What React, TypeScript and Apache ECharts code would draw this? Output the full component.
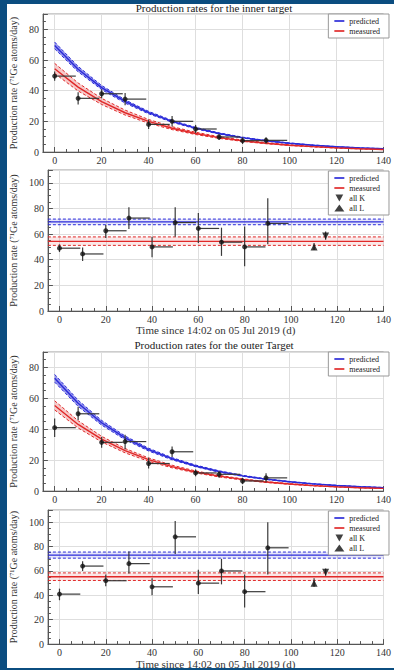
import React, { useEffect, useRef } from 'react';
import * as echarts from 'echarts';

// ---------- data ----------
const curveDays = [0, 10, 20, 30, 40, 50, 60, 70, 80, 90, 100, 110, 120, 130, 140];

const innerPredCenter = [69.5, 54, 42, 33, 25.7, 20, 15.6, 12.1, 9.4, 7.3, 5.7, 4.4, 3.4, 2.7, 2.1];
const innerPredUpper = [71.7, 55.8, 43.4, 34, 26.5, 20.6, 16.1, 12.5, 9.7, 7.5, 5.9, 4.6, 3.5, 2.8, 2.2];
const innerPredLower = [67.3, 52.3, 40.7, 31.9, 24.9, 19.4, 15.1, 11.7, 9.1, 7.1, 5.5, 4.3, 3.3, 2.6, 2.0];

const innerMeasCenter = [54.3, 42.3, 32.9, 25.6, 20, 15.5, 12.1, 9.4, 7.3, 5.7, 4.4, 3.5, 2.7, 2.1, 1.6];
const innerMeasUpper = [57.8, 45, 35, 27.3, 21.2, 16.5, 12.9, 10, 7.8, 6.1, 4.7, 3.7, 2.9, 2.2, 1.7];
const innerMeasLower = [51.2, 39.8, 31, 24.1, 18.8, 14.6, 11.4, 8.9, 6.9, 5.4, 4.2, 3.3, 2.5, 2.0, 1.5];

const outerPredCenter = [73, 56.8, 44.2, 34.4, 26.8, 20.9, 16.2, 12.6, 9.8, 7.7, 6, 4.6, 3.6, 2.8, 2.2];
const outerPredUpper = [75.5, 58.8, 45.7, 35.6, 27.7, 21.6, 16.8, 13.1, 10.2, 7.9, 6.2, 4.8, 3.7, 2.9, 2.3];
const outerPredLower = [70.5, 54.8, 42.7, 33.2, 25.9, 20.2, 15.7, 12.2, 9.5, 7.4, 5.8, 4.5, 3.5, 2.7, 2.1];

const outerMeasCenter = [55.4, 43.1, 33.6, 26.1, 20.3, 15.8, 12.3, 9.6, 7.5, 5.8, 4.5, 3.5, 2.7, 2.1, 1.7];
const outerMeasUpper = [58.4, 45.5, 35.4, 27.5, 21.4, 16.7, 13, 10.1, 7.9, 6.1, 4.8, 3.7, 2.9, 2.2, 1.8];
const outerMeasLower = [52.5, 40.8, 31.8, 24.7, 19.2, 15, 11.7, 9.1, 7.1, 5.5, 4.3, 3.3, 2.6, 2.0, 1.6];

// binned measurements (start day, end day)
const binStart = [0, 10, 20, 30, 40, 50, 60, 70, 80, 90];
const binEnd = [9, 19, 29, 39, 49, 59, 69, 79, 89, 99];

const innerDecay = [49.5, 35, 38, 34.5, 18, 20, 15, 9.8, 7.4, 7.6];
const innerDecayLow = [46.5, 31, 35, 30.5, 15, 16.6, 12.3, 7.8, 5.2, 5.6];
const innerDecayHigh = [52.5, 39, 41, 38.5, 21, 23.4, 17.7, 11.8, 9.6, 9.6];

const outerDecay = [41, 50, 31.5, 32, 17.8, 25.4, 11.7, 10.8, 6.5, 8.5];
const outerDecayLow = [35, 46, 28, 27, 14.5, 22, 9.5, 8.5, 4.5, 5.5];
const outerDecayHigh = [47, 54.5, 35, 36.5, 21.5, 28.8, 14, 13, 8.5, 11.5];

const innerRate = [49, 44.5, 62.6, 72.5, 50, 69, 64.4, 53.7, 50, 68.3];
const innerRateLow = [46, 39, 57, 64, 42, 58, 53, 43, 35, 52];
const innerRateHigh = [52, 49.5, 67, 81, 58, 81, 76.5, 65, 66, 88];

const outerRate = [41, 64, 52, 66, 47, 88, 50, 60, 43, 79];
const outerRateLow = [36, 60, 47.5, 58, 40, 74, 41, 49, 30, 57];
const outerRateHigh = [45.5, 68, 57, 76, 54, 101, 61, 70, 57, 100];

// shell-resolved points: all L, all K
const shellDays = [110, 115];
const innerShellRate = [50, 58.6];
const innerShellLow = [47.5, 55.5];
const innerShellHigh = [53, 62];
const outerShellRate = [50, 59];
const outerShellLow = [47, 56];
const outerShellHigh = [54, 62];

// constant levels: [lower, central, upper]
const innerPredLevel = [67.3, 69.5, 71.7];
const innerMeasLevel = [51.2, 54.3, 57.8];
const outerPredLevel = [70.5, 73, 75.5];
const outerMeasLevel = [52.2, 55.2, 58.4];

const levelSpan = [-5, 140];

const titles = ['Production rates for the inner target', 'Production rates for the outer Target'];
const yTitle = 'Production rate (\u2077\u00B9Ge atoms/day)';
const xTitle = 'Time since 14:02 on 05 Jul 2019 (d)';

// ---------- styling ----------
const FONT = "'Liberation Serif', 'DejaVu Serif', serif";
const BLUE_BG = '#0b4d80';
const BLUE = '#2a2ad8';
const BLUE_FILL = 'rgba(50,50,220,0.5)';
const BLUE_FILL_LIGHT = 'rgba(60,60,220,0.13)';
const RED = '#e02828';
const RED_FILL = 'rgba(225,60,60,0.28)';
const RED_FILL_LIGHT = 'rgba(225,60,60,0.12)';
const AXIS = '#555';
const LINE_ICON = 'path://M0,0L12,0L12,2L0,2Z';
const DOWN_TRI = 'path://M0,0L10,0L5,9Z';

function band(name: string, gi: number, xs: number[], lo: number[], center: number[], hi: number[], color: string, fill: string) {
  const common = { xAxisIndex: gi, yAxisIndex: gi, smooth: false, symbol: 'none', showSymbol: false, silent: true };
  return [
    {
      type: 'custom',
      xAxisIndex: gi,
      yAxisIndex: gi,
      silent: true,
      z: 2,
      data: xs.map((x, i) => [x, lo[i], hi[i]]),
      encode: { x: 0, y: [1, 2] },
      renderItem: (params: any, api: any) => {
        if (params.dataIndex !== 0) return null;
        const top = xs.map((x, i) => api.coord([x, hi[i]]));
        const bottom = xs.map((x, i) => api.coord([x, lo[i]])).reverse();
        return { type: 'polygon', shape: { points: top.concat(bottom) }, style: { fill } };
      },
    },
    { ...common, type: 'line', name: name + ' low', data: xs.map((x, i) => [x, lo[i]]), itemStyle: { color }, lineStyle: { color, width: 1, type: [3, 2] }, z: 3 },
    { ...common, type: 'line', name: name + ' high', data: xs.map((x, i) => [x, hi[i]]), itemStyle: { color }, lineStyle: { color, width: 1, type: [3, 2] }, z: 3 },
    { ...common, type: 'line', name, data: xs.map((x, i) => [x, center[i]]), itemStyle: { color }, lineStyle: { color, width: 1.4 }, z: 4 },
  ];
}

function levelBand(name: string, gi: number, level: number[], color: string, fill: string) {
  return band(name, gi, levelSpan, levelSpan.map(() => level[0]), levelSpan.map(() => level[1]), levelSpan.map(() => level[2]), color, fill);
}

function errorBars(gi: number, xs: number[], ys: number[], lo: number[], hi: number[], ends: number[]) {
  return {
    type: 'custom',
    xAxisIndex: gi,
    yAxisIndex: gi,
    silent: true,
    z: 5,
    data: xs.map((x, i) => [x, ys[i], lo[i], hi[i], ends[i]]),
    encode: { x: [0, 4], y: [1, 2, 3] },
    renderItem: (_p: any, api: any) => {
      const x = api.value(0);
      const y = api.value(1);
      const p = api.coord([x, y]);
      const pl = api.coord([x, api.value(2)]);
      const ph = api.coord([x, api.value(3)]);
      const pe = api.coord([api.value(4), y]);
      const st = { stroke: '#3a3a3a', lineWidth: 1.2 };
      return {
        type: 'group',
        children: [
          { type: 'line', shape: { x1: pl[0], y1: pl[1], x2: ph[0], y2: ph[1] }, style: st },
          { type: 'line', shape: { x1: p[0], y1: p[1], x2: pe[0], y2: p[1] }, style: st },
        ],
      };
    },
  };
}

function markers(gi: number, name: string, xs: number[], ys: number[], symbol: string, size: number) {
  return {
    type: 'scatter',
    name,
    xAxisIndex: gi,
    yAxisIndex: gi,
    silent: true,
    symbol,
    symbolSize: size,
    itemStyle: { color: '#111' },
    data: xs.map((x, i) => [x, ys[i]]),
    z: 6,
  };
}

function buildOption(): any {
  const grids = [
    { left: 40, top: 14, width: 348, height: 138 },
    { left: 40, top: 170, width: 348, height: 141 },
    { left: 40, top: 352, width: 348, height: 139 },
    { left: 40, top: 510, width: 348, height: 138 },
  ].map((g) => ({ ...g, show: true, borderColor: '#9a9a9a', borderWidth: 1, backgroundColor: 'transparent' }));

  const yMax = [90, 110, 90, 110];

  const xAxis = grids.map((_g, i) => ({
    type: 'value',
    gridIndex: i,
    min: -5,
    max: 140,
    splitNumber: 7,
    minInterval: 20,
    maxInterval: 20,
    axisLine: { show: true, onZero: false, lineStyle: { color: AXIS, width: 1 } },
    axisTick: { show: true, inside: true, length: 5, lineStyle: { color: AXIS } },
    minorTick: { show: true, splitNumber: 4, length: 3, lineStyle: { color: AXIS } },
    splitLine: { show: true, lineStyle: { color: '#dedede', width: 1 } },
    axisLabel: { showMinLabel: false, fontFamily: FONT, fontSize: 10, color: '#333', margin: 3 },
    name: i % 2 === 1 ? xTitle : '',
    nameLocation: 'middle',
    nameGap: 12,
    nameTextStyle: { fontFamily: FONT, fontSize: 11, color: '#333', verticalAlign: 'top' },
  }));

  const yAxis = grids.map((_g, i) => ({
    type: 'value',
    gridIndex: i,
    min: 0,
    max: yMax[i],
    interval: 20,
    axisLine: { show: true, onZero: false, lineStyle: { color: AXIS, width: 1 } },
    axisTick: { show: true, inside: true, length: 5, lineStyle: { color: AXIS } },
    minorTick: { show: true, splitNumber: 4, length: 3, lineStyle: { color: AXIS } },
    splitLine: { show: true, lineStyle: { color: '#dedede', width: 1 } },
    axisLabel: { showMaxLabel: false, fontFamily: FONT, fontSize: 10, color: '#333', margin: 4 },
    name: yTitle,
    nameLocation: 'middle',
    nameRotate: 90,
    nameGap: 19,
    nameTextStyle: { fontFamily: FONT, fontSize: 10, color: '#333' },
  }));

  const legendCommon = {
    orient: 'vertical',
    right: 5,
    selectedMode: false,
    backgroundColor: '#fff',
    borderColor: '#999',
    borderWidth: 1,
    borderRadius: 0,
    padding: [3, 9, 3, 6],
    itemWidth: 10,
    itemHeight: 7,
    itemGap: 2,
    symbolKeepAspect: true,
    z: 10,
    textStyle: { fontFamily: FONT, fontSize: 8, color: '#222', lineHeight: 8 },
  };
  const lineItems = [
    { name: 'predicted', icon: LINE_ICON, itemStyle: { color: BLUE } },
    { name: 'measured', icon: LINE_ICON, itemStyle: { color: RED } },
  ];
  const shellItems = [
    { name: 'all K', icon: DOWN_TRI, itemStyle: { color: '#111' } },
    { name: 'all L', icon: 'triangle', itemStyle: { color: '#111' } },
  ];
  const legend = [
    { ...legendCommon, top: 14, data: lineItems },
    { ...legendCommon, top: 171, data: [...lineItems, ...shellItems] },
    { ...legendCommon, top: 352, data: lineItems },
    { ...legendCommon, top: 511, data: [...lineItems, ...shellItems] },
  ];

  const titleStyle = { fontFamily: FONT, fontSize: 11, fontWeight: 'normal', color: '#222' };
  const title = [
    { text: titles[0], left: 214, top: 2, textAlign: 'center', padding: 0, textStyle: titleStyle },
    { text: titles[1], left: 214, top: 339, textAlign: 'center', padding: 0, textStyle: titleStyle },
  ];

  const series: any[] = [
    // panel 1: inner decay
    ...band('predicted', 0, curveDays, innerPredLower, innerPredCenter, innerPredUpper, BLUE, BLUE_FILL),
    ...band('measured', 0, curveDays, innerMeasLower, innerMeasCenter, innerMeasUpper, RED, RED_FILL),
    errorBars(0, binStart, innerDecay, innerDecayLow, innerDecayHigh, binEnd),
    markers(0, 'inner decay data', binStart, innerDecay, 'circle', 5),
    // panel 2: inner rates
    ...levelBand('predicted', 1, innerPredLevel, BLUE, BLUE_FILL_LIGHT),
    ...levelBand('measured', 1, innerMeasLevel, RED, RED_FILL_LIGHT),
    errorBars(1, binStart, innerRate, innerRateLow, innerRateHigh, binEnd),
    markers(1, 'inner rate data', binStart, innerRate, 'circle', 5),
    errorBars(1, shellDays, innerShellRate, innerShellLow, innerShellHigh, shellDays),
    markers(1, 'all L', [shellDays[0]], [innerShellRate[0]], 'triangle', 7),
    markers(1, 'all K', [shellDays[1]], [innerShellRate[1]], DOWN_TRI, 7),
    // panel 3: outer decay
    ...band('predicted', 2, curveDays, outerPredLower, outerPredCenter, outerPredUpper, BLUE, BLUE_FILL),
    ...band('measured', 2, curveDays, outerMeasLower, outerMeasCenter, outerMeasUpper, RED, RED_FILL),
    errorBars(2, binStart, outerDecay, outerDecayLow, outerDecayHigh, binEnd),
    markers(2, 'outer decay data', binStart, outerDecay, 'circle', 5),
    // panel 4: outer rates
    ...levelBand('predicted', 3, outerPredLevel, BLUE, BLUE_FILL_LIGHT),
    ...levelBand('measured', 3, outerMeasLevel, RED, RED_FILL_LIGHT),
    errorBars(3, binStart, outerRate, outerRateLow, outerRateHigh, binEnd),
    markers(3, 'outer rate data', binStart, outerRate, 'circle', 5),
    errorBars(3, shellDays, outerShellRate, outerShellLow, outerShellHigh, shellDays),
    markers(3, 'all L', [shellDays[0]], [outerShellRate[0]], 'triangle', 7),
    markers(3, 'all K', [shellDays[1]], [outerShellRate[1]], DOWN_TRI, 7),
  ];

  return {
    animation: false,
    backgroundColor: 'transparent',
    textStyle: { fontFamily: FONT },
    title,
    legend,
    grid: grids,
    xAxis,
    yAxis,
    series,
  };
}

export default function App() {
  const ref = useRef<HTMLDivElement>(null);
  useEffect(() => {
    if (!ref.current) return;
    const chart = echarts.init(ref.current, null, { renderer: 'svg' });
    chart.setOption(buildOption());
    return () => chart.dispose();
  }, []);
  return (
    <div style={{ position: 'fixed', left: 0, top: 0, width: 394, height: 670, background: BLUE_BG, overflow: 'hidden' }}>
      <div style={{ position: 'absolute', left: 7, top: 4, width: 387, height: 664, background: '#fff' }} />
      <div ref={ref} style={{ position: 'absolute', left: 0, top: 0, width: 394, height: 670 }} />
      <div style={{ position: 'absolute', left: 0, top: 0, width: 394, height: 4, background: BLUE_BG, pointerEvents: 'none' }} />
      <div style={{ position: 'absolute', left: 0, top: 0, width: 7, height: 670, background: BLUE_BG, pointerEvents: 'none' }} />
      <div style={{ position: 'absolute', left: 0, top: 668, width: 394, height: 2, background: BLUE_BG, pointerEvents: 'none' }} />
    </div>
  );
}
